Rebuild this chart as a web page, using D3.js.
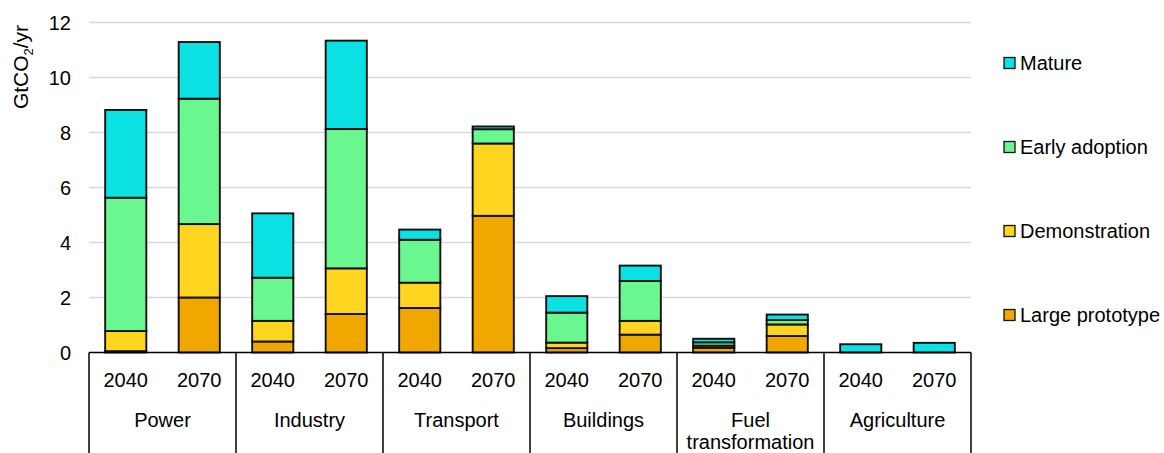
<!DOCTYPE html>
<html><head><meta charset="utf-8">
<script src="https://cdn.jsdelivr.net/npm/d3@7"></script>
<style>body{margin:0;background:#fff} text{font-family:"Liberation Sans",Arial,sans-serif;fill:#000}</style>
</head><body><svg id="c" width="1164" height="453"></svg>
<script>
const sectors = ["Power","Industry","Transport","Buildings","Fuel transformation","Agriculture"];
const years = ["2040","2070"];
const stages = ["Large prototype","Demonstration","Early adoption","Mature"];
// values per bar: Power 2040, Power 2070, Industry 2040, ...
const largePrototype = [0.05,2.0,0.4,1.4,1.62,4.97,0.16,0.65,0.17,0.6,0,0];
const demonstration  = [0.73,2.67,0.75,1.66,0.92,2.63,0.2,0.5,0.08,0.42,0,0];
const earlyAdoption  = [4.85,4.56,1.57,5.07,1.56,0.52,1.09,1.45,0.12,0.16,0,0];
const mature         = [3.19,2.06,2.34,3.21,0.37,0.1,0.6,0.56,0.13,0.2,0.3,0.35];
const yTicks = [0,2,4,6,8,10,12];
const colors = ["#f0a800","#ffd520","#6af790","#0be0e3"];

const svg = d3.select("#c");
const L = 89, R = 971, Y0 = 352.5, Y1 = 22.5;
const FS = 20;
const y = d3.scaleLinear().domain([0,12]).range([Y0,Y1]);
const xg = d3.scaleBand().domain(sectors).range([L,R]);
const xy = d3.scaleBand().domain(years).range([0,xg.bandwidth()]).paddingInner(0.44).paddingOuter(0.22);

const series = [largePrototype, demonstration, earlyAdoption, mature];
const rows = [];
sectors.forEach((s,i)=>years.forEach((yr,j)=>{
  const k = i*2+j; const r = {sector:s, year:yr};
  stages.forEach((st,m)=> r[st] = series[m][k]);
  rows.push(r);
}));
const stacked = d3.stack().keys(stages)(rows);

// gridlines
svg.append("g").selectAll("line").data(yTicks.filter(d=>d>0)).join("line")
  .attr("x1",L).attr("x2",R).attr("y1",d=>y(d)).attr("y2",d=>y(d))
  .attr("stroke","#d9d9d9").attr("stroke-width",1.5);

// y tick labels
svg.append("g").selectAll("text").data(yTicks).join("text")
  .attr("x",71).attr("y",d=>y(d)).attr("dy","0.35em").attr("text-anchor","end")
  .attr("font-size",FS).text(d=>d);

// y label
const yl = svg.append("text").attr("transform","translate(28,67) rotate(-90)")
  .attr("text-anchor","middle").attr("font-size",21);
yl.append("tspan").text("GtCO");
yl.append("tspan").attr("font-size",13).attr("dy",5).text("2");
yl.append("tspan").attr("dy",-5).text("/yr");

// bars
stacked.forEach((layer,m)=>{
  svg.append("g").selectAll("rect").data(layer.filter(d=>d[1]-d[0]>0)).join("rect")
    .attr("x",d=>xg(d.data.sector)+xy(d.data.year))
    .attr("width",xy.bandwidth())
    .attr("y",d=>y(d[1]))
    .attr("height",d=>y(d[0])-y(d[1]))
    .attr("fill",colors[m]).attr("stroke","#111").attr("stroke-width",1.9);
});

// axis line and group dividers
svg.append("line").attr("x1",L).attr("x2",R).attr("y1",Y0).attr("y2",Y0)
  .attr("stroke","#000").attr("stroke-width",1.5);
const bounds = sectors.map(s=>xg(s)).concat([R]);
svg.append("g").selectAll("line").data(bounds).join("line")
  .attr("x1",d=>d).attr("x2",d=>d).attr("y1",Y0).attr("y2",453)
  .attr("stroke","#000").attr("stroke-width",1.5);

// year labels
const yearLab = svg.append("g");
sectors.forEach(s=>years.forEach(yr=>{
  yearLab.append("text").attr("x",xg(s)+xy(yr)+xy.bandwidth()/2).attr("y",387)
    .attr("text-anchor","middle").attr("font-size",FS).text(yr);
}));
// sector labels
sectors.forEach(s=>{
  const words = s==="Fuel transformation" ? ["Fuel","transformation"] : [s];
  words.forEach((w,i)=>{
    svg.append("text").attr("x",xg(s)+xg.bandwidth()/2).attr("y",427+i*22)
      .attr("text-anchor","middle").attr("font-size",FS).text(w);
  });
});

// legend
const legOrder = stages.map((s,i)=>({s, c:colors[i]})).reverse();
const lg = svg.append("g").selectAll("g").data(legOrder).join("g")
  .attr("transform",(d,i)=>`translate(1004,${63+i*84})`);
lg.append("rect").attr("x",0).attr("y",-5.5).attr("width",11).attr("height",11)
  .attr("fill",d=>d.c).attr("stroke","#111").attr("stroke-width",1.3);
lg.append("text").attr("x",16).attr("y",0).attr("dy","0.35em").attr("font-size",FS).text(d=>d.s);
</script></body></html>
